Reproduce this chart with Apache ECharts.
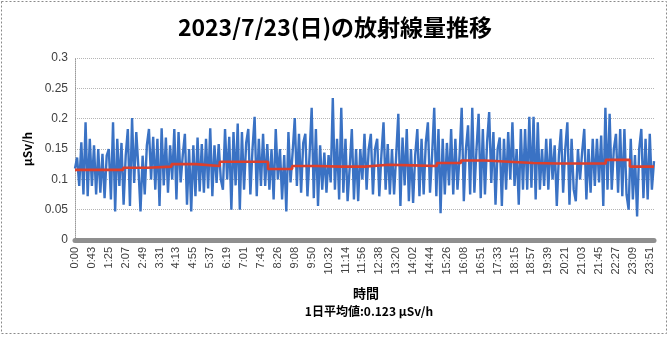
<!DOCTYPE html>
<html><head><meta charset="utf-8">
<script src="https://cdn.jsdelivr.net/npm/echarts@6/dist/echarts.min.js"></script>
<style>html,body{margin:0;padding:0;background:#fff}#c{width:670px;height:337px}</style>
</head><body><div id="c"></div>
<script>
const titleText = '2023/7/23(日)の放射線量推移';
const yTicks = [0, 0.05, 0.1, 0.15, 0.2, 0.25, 0.3];
const tickLabels = ['0:00','0:43','1:25','2:07','2:49','3:31','4:13','4:55','5:37','6:19','7:01','7:43','8:26','9:08','9:50','10:32','11:14','11:56','12:38','13:20','14:02','14:44','15:26','16:08','16:51','17:33','18:15','18:57','19:39','20:21','21:03','21:45','22:27','23:09','23:51'];
const doseValues = [
0.118,0.136,0.089,0.161,0.075,0.194,0.072,0.167,0.089,0.156,0.075,0.150,0.078,0.142,0.069,0.139,
0.150,0.067,0.194,0.047,0.167,0.089,0.160,0.058,0.139,0.183,0.056,0.201,0.094,0.178,0.120,0.047,
0.139,0.075,0.156,0.183,0.100,0.170,0.083,0.167,0.056,0.184,0.090,0.169,0.078,0.156,0.100,0.183,
0.067,0.178,0.095,0.140,0.175,0.058,0.150,0.047,0.156,0.072,0.169,0.080,0.158,0.078,0.167,0.085,
0.184,0.072,0.156,0.094,0.158,0.100,0.083,0.183,0.100,0.170,0.050,0.178,0.090,0.192,0.050,0.178,
0.083,0.160,0.183,0.075,0.150,0.203,0.072,0.167,0.089,0.175,0.089,0.158,0.083,0.150,0.067,0.183,
0.100,0.150,0.067,0.140,0.047,0.178,0.095,0.145,0.201,0.089,0.175,0.078,0.160,0.175,0.072,0.140,
0.218,0.069,0.183,0.056,0.156,0.083,0.144,0.078,0.140,0.095,0.234,0.083,0.167,0.067,0.218,0.078,
0.167,0.064,0.120,0.183,0.067,0.150,0.064,0.150,0.100,0.175,0.083,0.150,0.175,0.075,0.150,0.167,
0.072,0.140,0.194,0.083,0.158,0.075,0.150,0.075,0.140,0.208,0.056,0.169,0.090,0.183,0.064,0.150,
0.061,0.140,0.183,0.072,0.167,0.075,0.160,0.194,0.078,0.140,0.218,0.072,0.183,0.044,0.167,0.075,
0.160,0.090,0.183,0.075,0.167,0.083,0.140,0.218,0.064,0.150,0.189,0.075,0.218,0.078,0.150,0.208,
0.069,0.183,0.075,0.160,0.211,0.094,0.178,0.058,0.150,0.169,0.056,0.167,0.083,0.178,0.100,0.194,
0.089,0.150,0.058,0.183,0.083,0.183,0.083,0.203,0.086,0.203,0.067,0.194,0.083,0.150,0.089,0.167,
0.083,0.167,0.100,0.156,0.056,0.140,0.183,0.078,0.150,0.194,0.058,0.167,0.083,0.064,0.150,0.100,
0.145,0.183,0.067,0.150,0.078,0.167,0.089,0.167,0.095,0.172,0.056,0.218,0.083,0.208,0.083,0.150,
0.175,0.078,0.183,0.072,0.183,0.075,0.050,0.167,0.067,0.140,0.039,0.150,0.183,0.069,0.167,0.067,
0.175,0.083,0.130
];
const hourlyAvg = [0.1156,0.1156,0.119,0.121,0.125,0.122,0.129,0.129,0.117,0.122,0.121,0.121,0.124,0.123,0.122,0.127,0.131,0.129,0.127,0.126,0.126,0.126,0.132,0.121];
const yAxisName = 'μSv/h';
const xAxisName = '時間';
const avgText = '1日平均値:0.123 μSv/h';

const labelStep = 8;
const cats = doseValues.map((_, i) => String(i));
const redData = hourlyAvg.map((v, h) => [h, v]);
redData.push([24, hourlyAvg[hourlyAvg.length - 1]]);

const chart = echarts.init(document.getElementById('c'), null, {renderer: 'canvas'});
const fontJP = '"Noto Sans CJK JP", "Noto Sans", sans-serif';
chart.setOption({
  animation: false,
  backgroundColor: '#ffffff',
  title: {
    text: titleText, left: 'center', top: 11,
    textStyle: {fontFamily: fontJP, fontSize: 23, fontWeight: 'bold', color: '#000'}
  },
  grid: {left: 75, right: 16, top: 58, bottom: 97, containLabel: false},
  xAxis: [{
    type: 'category', data: cats, boundaryGap: false,
    axisLine: {show: true, lineStyle: {color: '#8f8f8f', width: 5}},
    axisTick: {show: false},
    axisLabel: {
      interval: labelStep - 1, rotate: 90, margin: 7, padding: [6, 0, 0, 0],
      fontFamily: '"Liberation Sans", sans-serif', fontSize: 11, color: '#404040',
      formatter: (v, idx) => tickLabels[Math.round(idx / labelStep)] || ''
    },
    splitLine: {show: false}
  }, {
    type: 'value', min: 0, max: 24, show: false
  }],
  yAxis: {
    type: 'value', min: yTicks[0], max: yTicks[yTicks.length - 1], interval: 0.05,
    name: yAxisName, nameLocation: 'middle', nameGap: 37, nameRotate: 90,
    nameTextStyle: {fontFamily: fontJP, fontSize: 12, fontWeight: 'bold', color: '#000'},
    axisLine: {show: true, lineStyle: {color: '#9a9a9a', width: 1, type: 'dotted'}},
    axisTick: {show: false},
    axisLabel: {fontFamily: '"Liberation Sans", sans-serif', fontSize: 12, color: '#404040', margin: 7,
      formatter: v => String(Math.round(v * 100) / 100)},
    splitLine: {show: true, lineStyle: {color: '#b5b5b5', width: 1, type: 'dotted'}}
  },
  series: [{
    type: 'line', data: doseValues, xAxisIndex: 0, showSymbol: false, symbol: 'none',
    lineStyle: {color: '#3A72C4', width: 2.4}, z: 2
  }, {
    type: 'line', data: redData, xAxisIndex: 1, step: 'end', showSymbol: false, symbol: 'none',
    lineStyle: {color: '#DC3F2C', width: 2.6}, z: 3
  }],
  graphic: [
    {type: 'rect', shape: {x: 1.5, y: 1.5, width: 665, height: 332}, style: {fill: 'none', stroke: '#8a8a8a', lineWidth: 1, lineDash: [2, 2]}, silent: true},
    {type: 'text', x: 366, y: 293, style: {text: xAxisName, fontFamily: fontJP, fontSize: 13, fontWeight: 'bold', fill: '#000', textAlign: 'center', textVerticalAlign: 'middle'}},
    {type: 'text', x: 369, y: 311, style: {text: avgText, fontFamily: fontJP, fontSize: 12, fontWeight: 'bold', fill: '#000', textAlign: 'center', textVerticalAlign: 'middle'}}
  ]
});
</script></body></html>
